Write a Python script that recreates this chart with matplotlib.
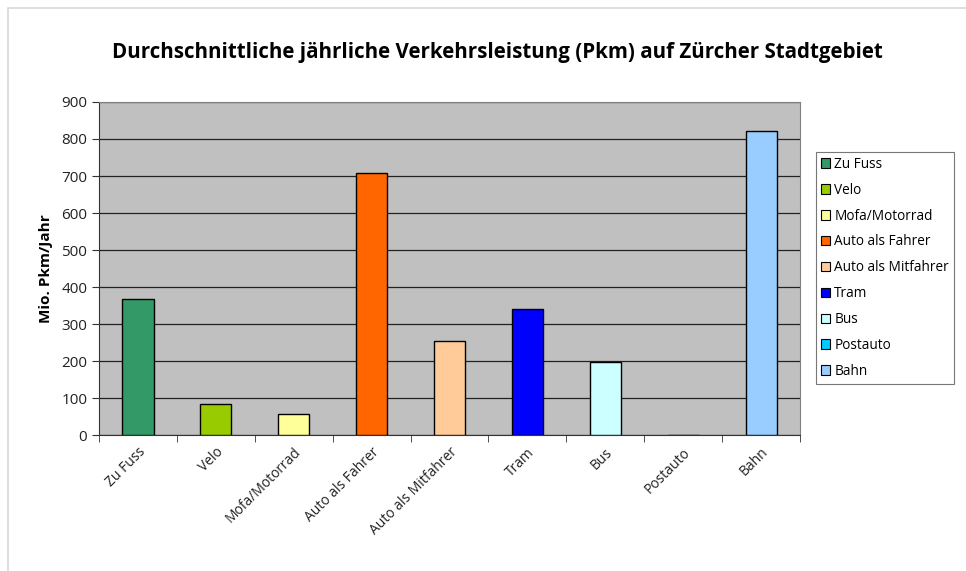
import matplotlib.pyplot as plt
import matplotlib.patches as mpatches
import numpy as np

plt.rcParams['font.family'] = ['Open Sans', 'DejaVu Sans']

categories = ['Zu Fuss', 'Velo', 'Mofa/Motorrad', 'Auto als Fahrer', 'Auto als Mitfahrer',
              'Tram', 'Bus', 'Postauto', 'Bahn']
values = [368, 85, 58, 708, 254, 340, 197, 0, 822]
colors = ['#339966', '#99cc00', '#ffff99', '#ff6600', '#ffcc99',
          '#0000ff', '#ccffff', '#00ccff', '#99ccff']

fig = plt.figure(figsize=(9.66, 5.71), dpi=100)
# light outer frame like the original chart object
fig.patches.append(mpatches.Rectangle((8 / 966, -0.1), 1.2, 1.1 - 8 / 571,
                                      transform=fig.transFigure, fill=False,
                                      edgecolor='#d8d8d8', lw=1.2))

ax = fig.add_axes([0.1025, 0.238, 0.7257, 0.5834])
ax.set_facecolor('#c0c0c0')

x = np.arange(len(categories))
ax.bar(x, values, width=0.4, color=colors, edgecolor='black', linewidth=1.0,
       zorder=3, label=categories)

ax.set_xlim(-0.5, len(categories) - 0.5)
ax.set_ylim(0, 900)
ax.set_yticks(np.arange(0, 901, 100))
ax.yaxis.grid(True, color='#222222', lw=0.9, zorder=1)
ax.set_axisbelow(True)

ax.set_xticks(x)
ax.set_xticklabels(categories, rotation=45, ha='right', rotation_mode='anchor', fontsize=10)
ax.tick_params(axis='x', length=0, pad=7)
ax.set_xticks(np.arange(-0.5, len(categories)), minor=True)
ax.tick_params(axis='x', which='minor', length=5, color='#333333', direction='out')
ax.tick_params(axis='y', length=5, color='#333333', labelsize=11)
for lbl in ax.get_yticklabels() + ax.get_xticklabels():
    lbl.set_color('#222222')

for side in ['top', 'right']:
    ax.spines[side].set_color('#808080')
for side in ['left', 'bottom']:
    ax.spines[side].set_color('#333333')

ax.set_ylabel('Mio. Pkm/Jahr', fontsize=11, fontweight='bold', labelpad=6)

fig.text(497 / 966, 0.908, 'Durchschnittliche jährliche Verkehrsleistung (Pkm) auf Zürcher Stadtgebiet',
         ha='center', va='center', fontsize=14.8, fontweight='bold')

handles = [mpatches.Patch(facecolor=c, edgecolor='black', lw=0.8) for c in colors]
leg = fig.legend(handles, categories, loc='upper left', bbox_to_anchor=(816 / 966, 1 - 152 / 571),
                 fontsize=9.8, frameon=True, fancybox=False, edgecolor='#555555',
                 handlelength=0.7, handleheight=0.7, handletextpad=0.3,
                 labelspacing=0.8, borderpad=0.35, borderaxespad=0)
leg.get_frame().set_linewidth(0.8)

fig.savefig('out.png', dpi=100)
